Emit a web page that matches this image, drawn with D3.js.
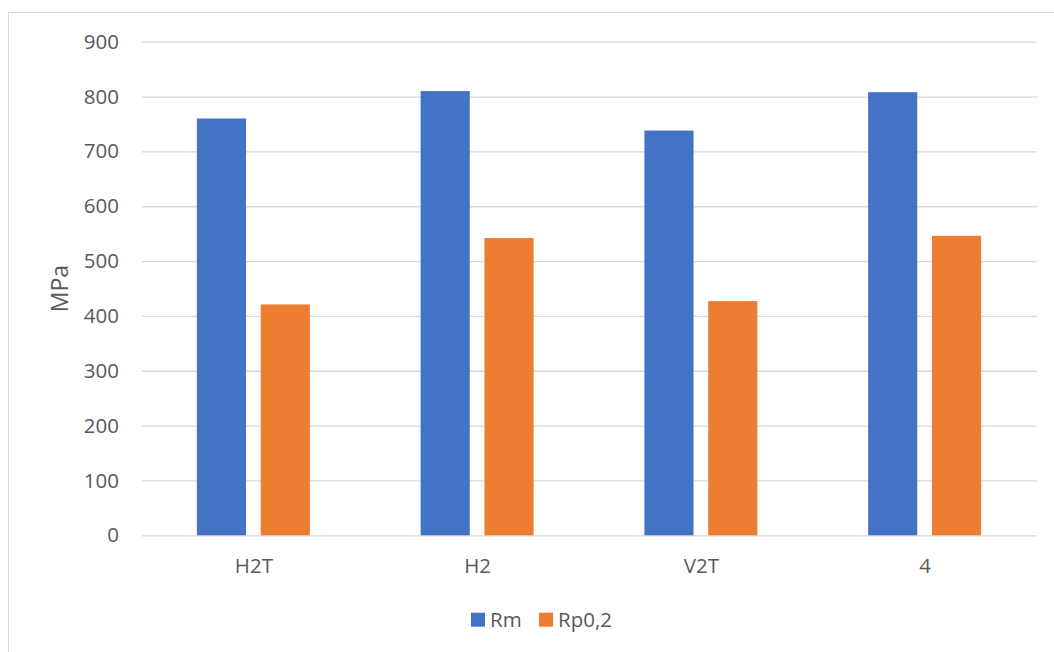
<!DOCTYPE html>
<html>
<head>
<meta charset="utf-8">
<script src="https://cdn.jsdelivr.net/npm/d3@7"></script>
<style>
  html, body { margin: 0; padding: 0; background: #fff; }
  svg { display: block; }
  text { font-family: "Open Sans", "Noto Sans", sans-serif; fill: #595959; }
</style>
</head>
<body>
<svg id="chart" width="1054" height="652"></svg>
<script>
const categories = ["H2T", "H2", "V2T", "4"];
const seriesNames = ["Rm", "Rp0,2"];
const rmValues = [760, 810, 738, 808];
const rpValues = [421, 542, 427, 546];
const yTicks = [0, 100, 200, 300, 400, 500, 600, 700, 800, 900];
const colors = ["#4472C4", "#ED7D31"];
const yLabel = "MPa";

const svg = d3.select("#chart");
const plotLeft = 142, plotRight = 1037, plotTop = 41.7, plotBottom = 535.3;

// outer chart border (only left/top visible in the crop)
svg.append("rect").attr("x", 8.5).attr("y", 12.5).attr("width", 1100).attr("height", 700)
  .attr("fill", "none").attr("stroke", "#d9d9d9").attr("stroke-width", 1);

const y = d3.scaleLinear().domain([0, 900]).range([plotBottom, plotTop]);
const x = d3.scaleBand().domain(categories).range([plotLeft, plotRight]).padding(0);
const bw = x.bandwidth();
const sub = d3.scaleBand().domain(seriesNames).range([bw / 2 - 57, bw / 2 + 56]).paddingInner(13 / 113 * 2).paddingOuter(0);

// gridlines
const yAxis = d3.axisLeft(y).tickValues(yTicks).tickSize(-(plotRight - plotLeft)).tickPadding(23);
const gy = svg.append("g").attr("transform", `translate(${plotLeft},0)`).call(yAxis);
gy.select(".domain").remove();
gy.selectAll(".tick line").attr("stroke", "#d9d9d9").attr("stroke-width", 1.3);
gy.selectAll(".tick text").attr("font-size", 20.5).style("fill", "#595959")
  .attr("font-family", "'Open Sans', sans-serif");

// bars
const data = categories.map((c, i) => ({ cat: c, vals: [rmValues[i], rpValues[i]] }));
const groups = svg.append("g").selectAll("g").data(data).join("g")
  .attr("transform", d => `translate(${x(d.cat)},0)`);
groups.selectAll("rect").data(d => d.vals.map((v, j) => ({ s: seriesNames[j], v, j })))
  .join("rect")
  .attr("x", d => sub(d.s))
  .attr("width", sub.bandwidth())
  .attr("y", d => y(d.v))
  .attr("height", d => y(0) - y(d.v))
  .attr("fill", d => colors[d.j]);

// x axis labels
const xAxis = d3.axisBottom(x).tickSize(0).tickPadding(23);
const gx = svg.append("g").attr("transform", `translate(0,${plotBottom})`).call(xAxis);
gx.select(".domain").remove();
gx.selectAll(".tick text").attr("font-size", 20.5).style("fill", "#595959")
  .attr("font-family", "'Open Sans', sans-serif");

// y axis title
svg.append("text").attr("transform", `translate(68,${(plotTop + plotBottom) / 2}) rotate(-90)`)
  .attr("text-anchor", "middle").attr("font-size", 23).text(yLabel);

// legend
const legendX = [471, 539];
const lg = svg.append("g");
seriesNames.forEach((s, i) => {
  lg.append("rect").attr("x", legendX[i]).attr("y", 612.7).attr("width", 14).attr("height", 14).attr("fill", colors[i]);
  lg.append("text").attr("x", legendX[i] + 19).attr("y", 627).attr("font-size", 20.5).text(s);
});
</script>
</body>
</html>
